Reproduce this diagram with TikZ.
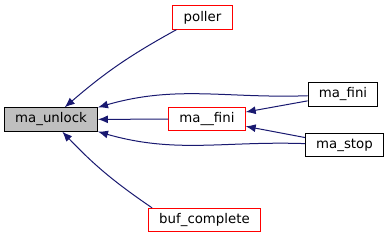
\documentclass[tikz,border=0pt]{standalone}
\usepackage{fontspec}
\setmainfont{DejaVu Sans}
\usetikzlibrary{arrows.meta}
\definecolor{EdgeBlue}{RGB}{25, 25, 112}
\definecolor{NodeGray}{RGB}{191, 191, 191}

\begin{document}
\begin{tikzpicture}[x=0.75pt,y=-0.75pt,
	fn/.style={rectangle,draw=black,line width=0.75pt,font=\fontsize{10}{12}\selectfont,
		inner xsep=8pt,inner ysep=0pt,minimum height=17.5pt},
	hidden/.style={fn,draw=red},
	cur/.style={fn,fill=NodeGray},
	edge/.style={draw=EdgeBlue,line width=0.75pt,{Latex[length=7.5pt,width=6pt]}-}]
\useasboundingbox (0,0) rectangle (389,240);
\node[cur]    (unlock) at (51,119.5){ma\_unlock};
\node[hidden] (poller) at (202.5,17.5){poller};
\node[hidden] (ufini)  at (207,119){ma\_\_fini};
\node[hidden] (bufc)   at (204.5,220){buf\_complete};
\node[fn]     (mafini) at (343,94.5){ma\_fini};
\node[fn]     (mastop) at (344.5,145){ma\_stop};
% callers of ma_unlock (y axis is flipped, so the bends are mirrored)
\draw[edge] (unlock) to[bend left=6] ([xshift=3pt]poller.south west);
\draw[edge] (unlock) -- (ufini);
\draw[edge] (unlock) to[bend right=6] ([xshift=3pt]bufc.north west);
\draw[edge] (unlock.north east) to[out=16,in=182] (mafini);
\draw[edge] (unlock.south east) to[out=-16,in=178] (mastop);
% callers of ma__fini
\foreach \n in {mafini,mastop}\draw[edge] (ufini) -- (\n);
\end{tikzpicture}
\end{document}
